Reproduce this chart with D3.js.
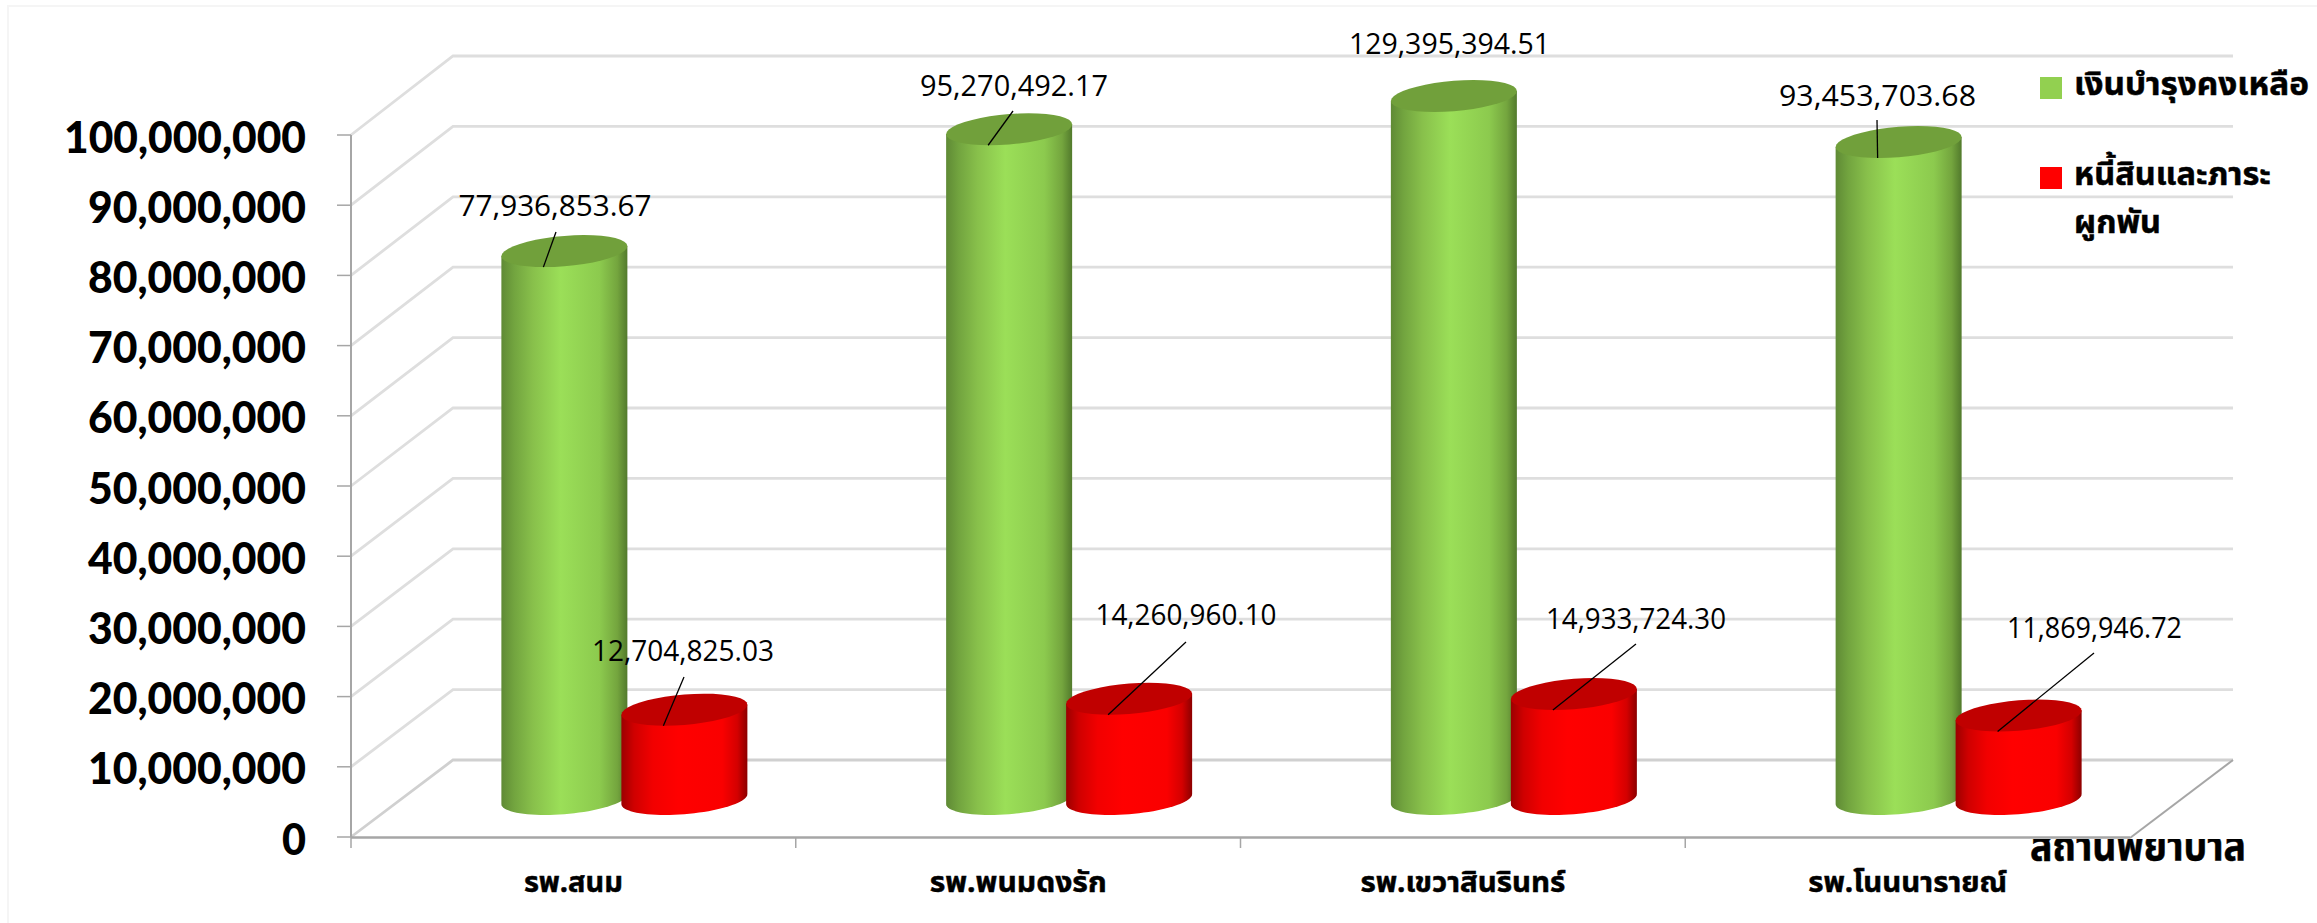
<!DOCTYPE html>
<html lang="th"><head><meta charset="utf-8">
<script src="https://cdn.jsdelivr.net/npm/d3@7/dist/d3.min.js"></script>
<style>
html,body{margin:0;padding:0;background:#fff;overflow:hidden}
svg{display:block}
.num{font-family:Lato,"Open Sans","Noto Sans",sans-serif}
.lab{font-family:"Open Sans","Noto Sans",sans-serif}
.th{font-family:"Noto Sans Thai","Kanit","Noto Sans","Noto Sans CJK SC","DejaVu Sans",sans-serif;font-weight:700;stroke:#000;stroke-width:.5}
</style></head><body>
<svg id="c" width="2317" height="923"></svg>
<script>
// ---- data ----
const categories = ["รพ.สนม","รพ.พนมดงรัก","รพ.เขวาสินรินทร์","รพ.โนนนารายณ์"];
const seriesNames = ["เงินบำรุงคงเหลือ","หนี้สินและภาระผูกพัน"];
const remaining = [77936853.67,95270492.17,129395394.51,93453703.68];
const liabilities = [12704825.03,14260960.10,14933724.30,11869946.72];
const yTicks = [0,10e6,20e6,30e6,40e6,50e6,60e6,70e6,80e6,90e6,100e6];
const axisTitle = "สถานพยาบาล";
// ---- hand-placed data label layout [centre x, baseline y, width, leader start x, leader start y] ----
const remainingLabelLayout = [[555,216,193,556,232],[1014,96,188,1013,111],[1449.5,54,201,null,null],[1877.5,106,197,1877,120]];
const liabilityLabelLayout = [[683,661,182,684,677],[1186,625,181,1186,642],[1636,629,180,1636,644],[2094.5,638,175,2094,653]];

const svg = d3.select("#c");
const fmt = d3.format(",.2f");
const domain = [0,100e6];
const yFront = d3.scaleLinear().domain(domain).range([837,135]);
const yBack  = d3.scaleLinear().domain(domain).range([760,56]);
const yMid   = d3.scaleLinear().domain(domain).range([799,96]).clamp(true);
const x0 = d3.scaleBand().domain(categories).range([351,2130]);
const x1 = d3.scalePoint().domain([0,1]).range([-60,60]);
const depthX = 102, midX = depthX/2, backRight = 2233;
const radius = 63, skew = 5, minor = 15.2;

// gradients
const defs = svg.append("defs");
function grad(id,stops){
  const g = defs.append("linearGradient").attr("id",id).attr("x1",0).attr("x2",1).attr("y1",0).attr("y2",0);
  stops.forEach(s=>g.append("stop").attr("offset",s[0]).attr("stop-color",s[1]));
}
grad("gG",[[0,"#5f8a35"],[.1,"#72a43f"],[.25,"#88c04b"],[.47,"#9bdf58"],[.78,"#8cca4e"],[.92,"#74a53e"],[1,"#527a2c"]]);
grad("gR",[[0,"#9c0000"],[.1,"#cf0000"],[.25,"#f20000"],[.45,"#ff0000"],[.8,"#fa0000"],[.92,"#d40000"],[1,"#8c0000"]]);
defs.append("clipPath").attr("id","titleClip").append("rect").attr("x",1990).attr("y",839).attr("width",320).attr("height",60);

// faint page frame
svg.append("path").attr("d","M8,923V6H2317").attr("fill","none").attr("stroke","#f5f5f5").attr("stroke-width",2);

// gridlines: side wall + back wall
const grid = svg.append("g").attr("fill","none").attr("stroke-width",2.8);
grid.selectAll("path").data(yTicks).join("path")
  .attr("d",v=>d3.line()([[351,yFront(v)],[351+depthX,yBack(v)],[backRight,yBack(v)]]))
  .attr("stroke",v=>v===0?"#d0d0d0":"#dedede");

// floor / axes
const ax = svg.append("g").attr("stroke","#a6a6a6").attr("fill","none");
ax.append("line").attr("x1",351).attr("x2",351).attr("y1",yFront(100e6)).attr("y2",yFront(0)).attr("stroke-width",2);
ax.append("line").attr("x1",351).attr("x2",2130).attr("y1",yFront(0)+.5).attr("y2",yFront(0)+.5).attr("stroke-width",2.5);
ax.append("line").attr("x1",2130).attr("y1",838).attr("x2",backRight).attr("y2",yBack(0)).attr("stroke-width",2);
ax.selectAll(".yt").data(yTicks).join("line").attr("class","yt")
  .attr("x1",337).attr("x2",351).attr("y1",d=>yFront(d)).attr("y2",d=>yFront(d)).attr("stroke-width",1.5);
ax.selectAll(".xt").data(categories).join("line").attr("class","xt")
  .attr("x1",d=>x0(d)).attr("x2",d=>x0(d)).attr("y1",837).attr("y2",848).attr("stroke-width",1.5);

// y tick labels
const tickFmt = d3.format(",");
svg.append("g").selectAll("text").data(yTicks).join("text").attr("class","num")
  .attr("x",306).attr("y",d=>yFront(d)+17.5).attr("text-anchor","end")
  .attr("font-size",44).attr("font-weight",900).attr("fill","#000")
  .attr("textLength",d=>{const s=tickFmt(d);const c=(s.match(/,/g)||[]).length;return (s.length-c)*24+c*13;})
  .attr("lengthAdjust","spacingAndGlyphs")
  .text(tickFmt);

// cylinders
function ellipsePts(cx,cy,a0,a1){
  return d3.range(0,41).map(i=>{
    const t=a0+(a1-a0)*i/40;
    return [cx+radius*Math.cos(t), cy-skew*Math.cos(t)+minor*Math.sin(t)];
  });
}
function drawCyl(g,cat,val,si,fillId,topCol){
  const cx = x0(cat)+x0.bandwidth()/2+midX+x1(si);
  const yb = yMid(0), yt = yMid(val);
  const lower = ellipsePts(cx,yb,0,Math.PI).reverse(); // left -> right along the bottom
  const body = [...ellipsePts(cx,yt,Math.PI,0).slice(0,1),...lower,[cx+radius,yt-skew]];
  g.append("path").attr("d",d3.line()(body)+"Z").attr("fill",`url(#${fillId})`);
  g.append("path").attr("d",d3.line()(ellipsePts(cx,yt,0,2*Math.PI))+"Z").attr("fill",topCol);
  return {cx,yt};
}
const bars = svg.append("g");
const tops = {g:[],r:[]};
categories.forEach((c,i)=>{
  tops.g.push(drawCyl(bars,c,remaining[i],0,"gG","#71a03b"));
  tops.r.push(drawCyl(bars,c,liabilities[i],1,"gR","#c00000"));
});

// data labels and leaders
function labels(vals,layout,top){
  vals.forEach((v,i)=>{
    const [lx,ly,w,sx,sy]=layout[i], t=top[i];
    if(sx!==null) svg.append("line").attr("x1",sx).attr("y1",sy).attr("x2",t.cx-21).attr("y2",t.yt+16)
      .attr("stroke","#000").attr("stroke-width",1.3);
    svg.append("text").attr("class","lab").attr("x",lx).attr("y",ly).attr("text-anchor","middle")
      .attr("font-size",29).attr("textLength",w).attr("lengthAdjust","spacingAndGlyphs").attr("fill","#000").text(fmt(v));
  });
}
labels(remaining,remainingLabelLayout,tops.g);
labels(liabilities,liabilityLabelLayout,tops.r);

// category labels
const catWidths=[99,177,205,199];
svg.append("g").selectAll("text").data(categories).join("text").attr("class","th")
  .attr("x",d=>x0(d)+x0.bandwidth()/2).attr("y",892).attr("text-anchor","middle")
  .attr("font-size",29).attr("fill","#000")
  .attr("textLength",(d,i)=>catWidths[i]).attr("lengthAdjust","spacingAndGlyphs").text(d=>d);

// axis title
svg.append("text").attr("class","th").attr("x",2030).attr("y",860).attr("font-size",42)
  .attr("clip-path","url(#titleClip)").attr("textLength",216).attr("lengthAdjust","spacingAndGlyphs").attr("fill","#000").text(axisTitle);

// legend
const lg = svg.append("g");
lg.append("rect").attr("x",2040).attr("y",77).attr("width",22).attr("height",22).attr("fill","#92d050");
lg.append("rect").attr("x",2040).attr("y",167).attr("width",22).attr("height",22).attr("fill","#ff0000");
lg.append("text").attr("class","th").attr("x",2074).attr("y",95).attr("font-size",32).attr("textLength",235).attr("lengthAdjust","spacingAndGlyphs").text(seriesNames[0]);
lg.append("text").attr("class","th").attr("x",2074).attr("y",185).attr("font-size",32).attr("textLength",197).attr("lengthAdjust","spacingAndGlyphs").text(seriesNames[1].slice(0,14));
lg.append("text").attr("class","th").attr("x",2074).attr("y",233).attr("font-size",32).attr("textLength",87).attr("lengthAdjust","spacingAndGlyphs").text(seriesNames[1].slice(14));
</script>
</body></html>
